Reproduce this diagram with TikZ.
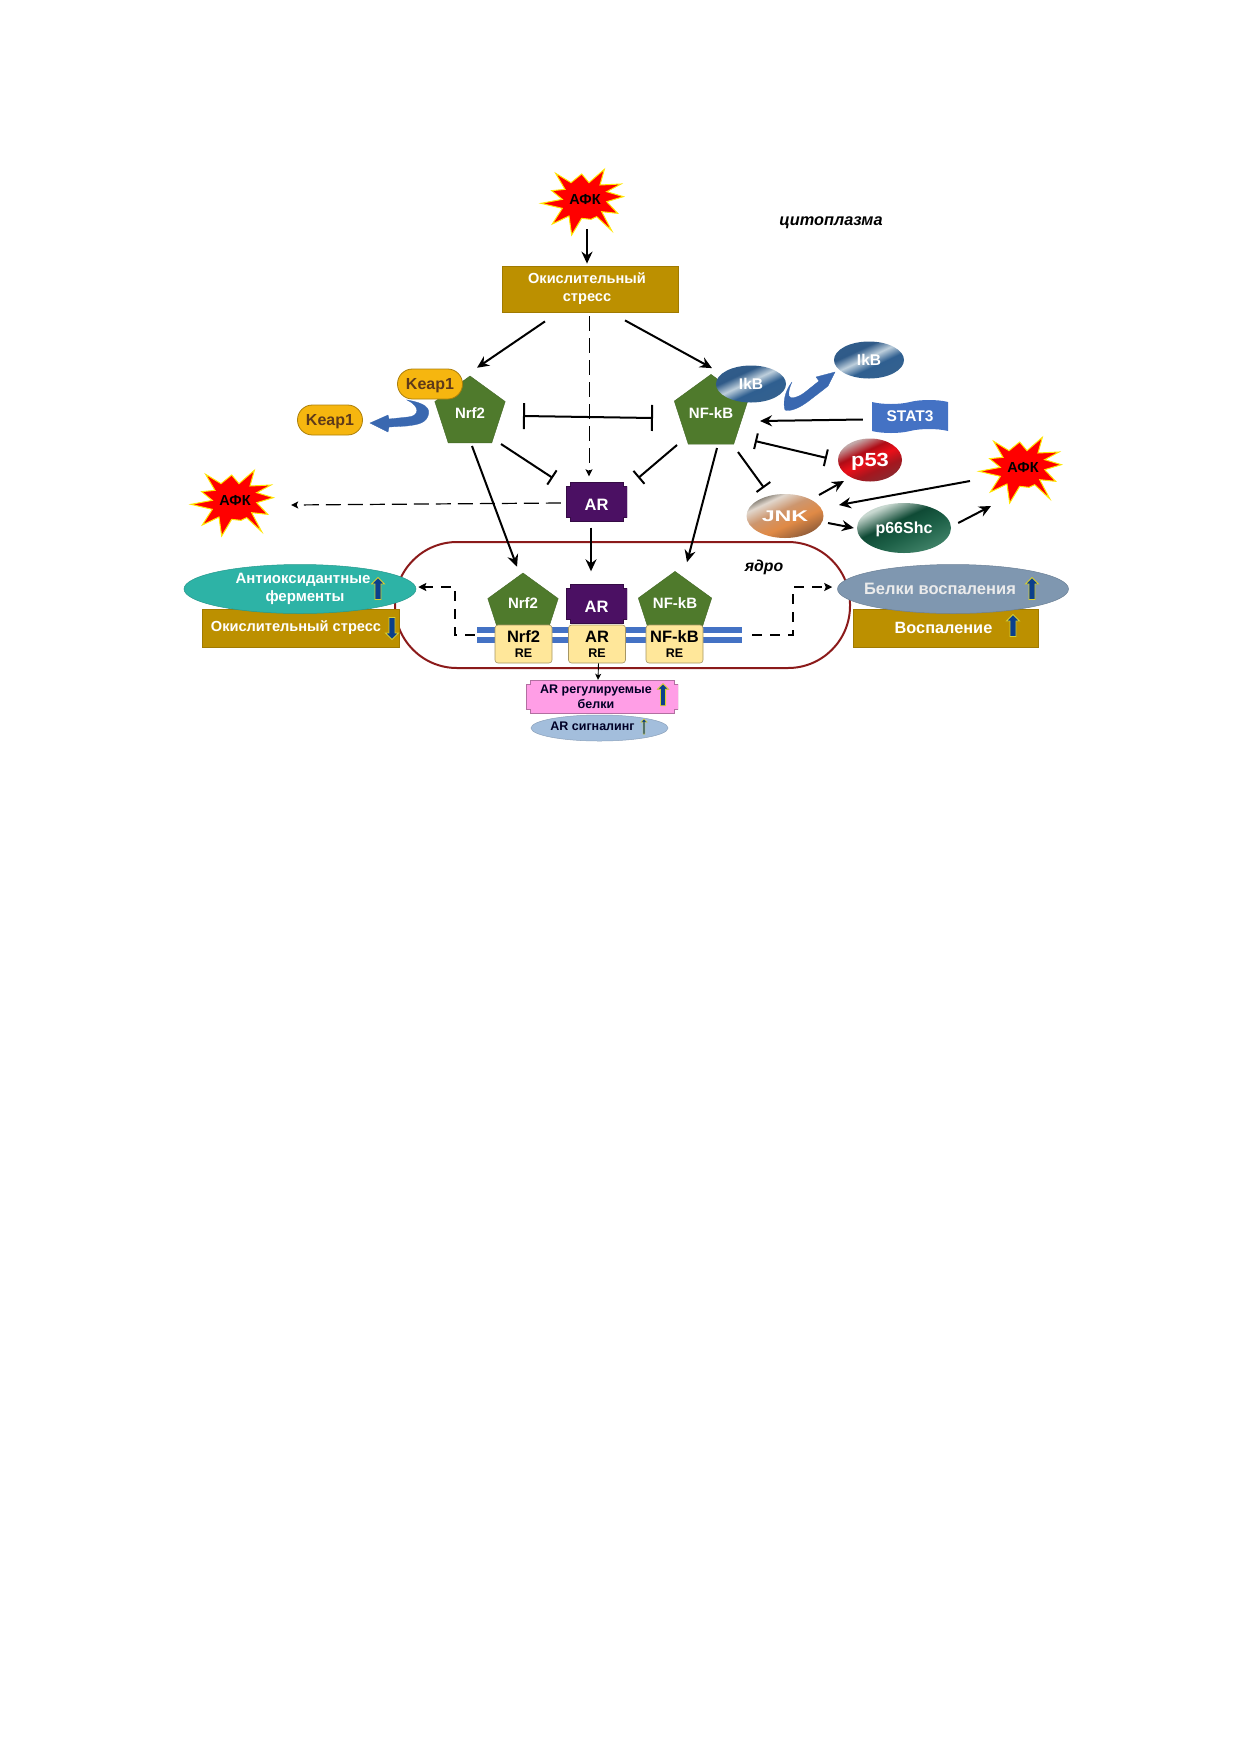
\documentclass[tikz,border=0pt]{standalone}
\usepackage{fontspec}
\usepackage{graphicx}
\setmainfont{Liberation Sans}
\usetikzlibrary{arrows.meta,positioning,shapes.geometric,shapes.arrows,shapes.symbols}

\definecolor{stressbrown}{HTML}{BC9000}
\definecolor{pentagreen}{HTML}{4F7A2C}
\definecolor{arpurple}{HTML}{4B1063}
\definecolor{keapgold}{HTML}{F6B60F}
\definecolor{keapbrown}{HTML}{5E3A1A}
\definecolor{curveblue}{HTML}{3A68B0}
\definecolor{dnablue}{HTML}{4472C4}
\definecolor{reyellow}{HTML}{FFE79A}
\definecolor{nucleusred}{HTML}{8B1A1A}
\definecolor{antioxteal}{HTML}{2DB3A6}
\definecolor{inflamgrey}{HTML}{7F97B0}
\definecolor{signalblue}{HTML}{A3BEDC}
\definecolor{pinkbox}{HTML}{FF9EE6}
\definecolor{arrnavy}{HTML}{0B3F8C}
\definecolor{arredge}{HTML}{D8D030}
\definecolor{ikbA}{HTML}{34618F}
\definecolor{ikbB}{HTML}{2F5F90}
\definecolor{ikbC}{HTML}{BECFDC}
\definecolor{ikbD}{HTML}{2F5A88}
\definecolor{p53A}{HTML}{8A2A30}
\definecolor{p53B}{HTML}{A5161E}
\definecolor{p53C}{HTML}{EB0F19}
\definecolor{p53D}{HTML}{AF0C16}
\definecolor{p53E}{HTML}{C3AAAA}
\definecolor{jnkA}{HTML}{96603A}
\definecolor{jnkB}{HTML}{E08A46}
\definecolor{jnkC}{HTML}{CD966E}
\definecolor{jnkD}{HTML}{E1D7CD}
\definecolor{jnkE}{HTML}{6E695F}
\definecolor{shcA}{HTML}{3E8066}
\definecolor{shcB}{HTML}{1D6047}
\definecolor{shcC}{HTML}{0F4A35}
\definecolor{shcD}{HTML}{C8D8D0}

\pgfdeclareverticalshading{ikbgloss}{100bp}{color(0bp)=(ikbA);color(25bp)=(ikbA);color(42bp)=(ikbB);color(53bp)=(ikbC);color(64bp)=(ikbD);color(100bp)=(ikbA)}
\pgfdeclareverticalshading{p53gloss}{100bp}{color(0bp)=(p53A);color(25bp)=(p53A);color(38bp)=(p53B);color(50bp)=(p53C);color(60bp)=(p53D);color(73bp)=(p53E);color(100bp)=(p53E)}
\pgfdeclareverticalshading{jnkgloss}{100bp}{color(0bp)=(jnkA);color(27bp)=(jnkA);color(42bp)=(jnkB);color(56bp)=(jnkC);color(68bp)=(jnkD);color(76bp)=(jnkE);color(100bp)=(jnkE)}
\pgfdeclareverticalshading{shcgloss}{100bp}{color(0bp)=(shcA);color(27bp)=(shcA);color(44bp)=(shcB);color(57bp)=(shcC);color(72bp)=(shcD);color(100bp)=(shcD)}

\newcommand{\fz}[2]{\fontsize{#1}{#2}\selectfont\bfseries}

\tikzset{
  afk/.style={rectangle,minimum width=100pt,minimum height=84pt,inner sep=0pt,font=\fz{14.5}{17},
    path picture={
      \begin{scope}[x=.3333pt,y=-.3333pt]
        \filldraw[fill=red,draw=yellow!90!orange,line width=1pt,line join=miter]
          (path picture bounding box.center)
          +(-88,-80) -- +(-42,-52) -- +(-10,-78) -- +(12,-52) -- +(58,-92) -- +(45,-45) -- +(108,-48) -- +(65,-25)
          -- +(115,-10) -- +(65,5) -- +(98,40) -- +(50,35) -- +(80,92) -- +(35,50) -- +(18,58) -- +(-10,55)
          -- +(-40,105) -- +(-48,48) -- +(-98,72) -- +(-68,25) -- +(-132,10) -- +(-68,-2) -- +(-100,-28) -- +(-60,-32) -- cycle;
      \end{scope}
    }},
  brownbox/.style={rectangle,fill=stressbrown,draw=stressbrown!85!black,line width=.8pt,text=white,align=center,inner sep=0pt,font=\fz{14.6}{18}},
  penta/.style={regular polygon,regular polygon sides=5,minimum size=74pt,inner sep=0pt,fill=pentagreen,draw=pentagreen!85!black,text=white,font=\fz{15}{18}},
  notched/.style={rectangle,inner sep=0pt,align=center,
    path picture={
      \coordinate (nsw) at (path picture bounding box.south west);
      \coordinate (nse) at (path picture bounding box.south east);
      \coordinate (nne) at (path picture bounding box.north east);
      \coordinate (nnw) at (path picture bounding box.north west);
      \filldraw[fill=#1,draw=#1!70!black,line width=.8pt]
        ([xshift=4pt]nsw) -- ([xshift=-4pt]nse) -- ([xshift=-4pt,yshift=4pt]nse) -- ([yshift=4pt]nse)
        -- ([yshift=-4pt]nne) -- ([xshift=-4pt,yshift=-4pt]nne) -- ([xshift=-4pt]nne) -- ([xshift=4pt]nnw)
        -- ([xshift=4pt,yshift=-4pt]nnw) -- ([yshift=-4pt]nnw) -- ([yshift=4pt]nsw) -- ([xshift=4pt,yshift=4pt]nsw) -- cycle;
    }},
  arbox/.style={notched=arpurple,minimum width=61pt,minimum height=39pt,text height=17pt,text depth=0pt,text=white,font=\fz{16.5}{19}},
  keap/.style={rectangle,rounded corners=14.9pt,minimum width=65pt,minimum height=30pt,inner sep=0pt,text depth=0pt,fill=keapgold,draw=keapgold!70!black,line width=.8pt,text=keapbrown,font=\fz{16}{18}},
  ikb/.style={ellipse,minimum width=70pt,minimum height=37pt,inner sep=0pt,shading=ikbgloss,shading angle=25,text=white,font=\fz{15.5}{18}},
  gloss/.style={ellipse,inner sep=0pt,text depth=0pt,shading=#1,shading angle=25,text=white},
  dnabar/.style={rectangle,minimum width=265pt,minimum height=6.5pt,inner sep=0pt,fill=dnablue},
  rebox/.style={rectangle,rounded corners=3pt,minimum width=57pt,minimum height=38pt,inner sep=0pt,fill=reyellow,draw=reyellow!65!black,line width=.6pt,align=center,font=\fz{16.5}{15}},
  oval/.style={ellipse,inner sep=0pt,align=center,fill=#1,draw=#1!85!black,line width=.5pt},
  uparr/.style={single arrow,shape border rotate=90,minimum height=22pt,minimum width=13pt,single arrow head extend=3.5pt,inner sep=2.6pt,fill=arrnavy,draw=arredge,line width=.8pt},
  downarr/.style={uparr,shape border rotate=270},
  curve/.style={fill=curveblue,draw=curveblue,line width=.3pt},
  arr/.style={->,line width=2pt},
  dasharr/.style={->,line width=#1,dash pattern=on 15pt off 7pt,>={Stealth[length=7pt,width=7pt,inset=1.5pt]}},
  routed/.style={->,line width=2pt,dash pattern=on 10pt off 8pt,>={Stealth[length=8pt,width=8pt,inset=1.5pt]}},
  block/.style={-{Bar[width=#1,line width=2pt]},line width=2pt},
  block/.default=17pt
}

\begin{document}
\begin{tikzpicture}[x=1pt,y=-1pt,on grid,>={Stealth[length=12pt,width=11pt,inset=4pt]}]
  \useasboundingbox (0,0) rectangle (1240,1754);

  \node[draw=nucleusred,line width=2pt,rounded corners=62pt,minimum width=455pt,minimum height=126pt,inner sep=0pt] (nucleus) at (622.5,605) {};

  \node[afk]                                         (afkTop)   at (585,200)           {АФК};
  \node[afk]                                         (afkLeft)  at (235,501)           {АФК};
  \node[afk]                                         (afkRight) at (1023,468)          {АФК};
  \node[brownbox,minimum width=176pt,minimum height=46pt] (stress) at (590,289)        {\hspace{-6pt}Окислительный\\\hspace{-6pt}стресс};
  \node[penta]                                       (nrf2)     at (470,413)           {Nrf2};
  \node[penta]                                       (nfkb)     [right=241pt of nrf2]  {NF-kB};
  \node[keap]                                        (keapOn)   at (430,384)           {Keap1};
  \node[keap]                                        (keapOff)  [below left=36pt and 100pt of keapOn] {Keap1};
  \node[ikb]                                         (ikbOn)    at (751,384)           {IkB};
  \node[ikb]                                         (ikbOff)   [above right=24pt and 118pt of ikbOn] {IkB};
  \node[tape,tape bend top=in and out,tape bend bottom=in and out,tape bend height=4pt,fill=dnablue,minimum width=76pt,minimum height=33pt,inner sep=0pt,text=white,font=\fz{15.5}{18}] (stat3) at (910,416.5) {STAT3};
  \node[gloss=p53gloss,minimum width=64pt,minimum height=43pt,font=\fz{19}{20}]      (p53) at (870,460) {\scalebox{1.15}[1]{p53}};
  \node[gloss=jnkgloss,minimum width=77pt,minimum height=44pt,font=\fz{15.5}{18}]    (jnk) at (785,516) {\scalebox{1.5}[1]{JNK}};
  \node[gloss=shcgloss,minimum width=94pt,minimum height=50pt,font=\fz{16}{18}]      (p66) at (904,528) {p66Shc};
  \node[arbox]                                       (ar)       at (596.5,502)         {AR};

  \node[brownbox,minimum width=197pt,minimum height=38pt] (stressDown) at (300.5,628) {Окислительный стресс\hspace{9pt}};
  \node[oval=antioxteal,minimum width=232pt,minimum height=49pt,text=white,font=\fz{15}{18}] (antiox) at (300,589) {\hspace{6pt}Антиоксидантные\\\hspace{10pt}ферменты};
  \node[brownbox,minimum width=185pt,minimum height=38pt,font=\fz{16.3}{18}] (inflam) at (945.5,628) {Воспаление\hspace{4pt}};
  \node[oval=inflamgrey,minimum width=231pt,minimum height=49pt,text=white!92!black,font=\fz{16.5}{18}] (proteins) at (953,589) {\hspace{-26pt}Белки воспаления};

  \node[dnabar]                                      (dnaTop)   at (609.5,630)         {};
  \node[dnabar]                                      (dnaBot)   [below=10pt of dnaTop] {};
  \node[penta]                                       (nrf2Nuc)  at (523,610)           {\raisebox{14pt}{Nrf2}};
  \node[penta]                                       (nfkbNuc)  [right=152pt of nrf2Nuc] {\raisebox{14pt}{NF-kB}};
  \node[arbox]                                       (arNuc)    [below=102pt of ar]    {AR};
  \node[rebox]                                       (nrf2Re)   at (523.5,644)         {Nrf2\\[0pt]\fontsize{12.5}{13}\selectfont RE};
  \node[rebox]                                       (arRe)     [right=73.5pt of nrf2Re] {AR\\[0pt]\fontsize{12.5}{13}\selectfont RE};
  \node[rebox]                                       (nfkbRe)   [right=151pt of nrf2Re]  {NF-kB\\[0pt]\fontsize{12.5}{13}\selectfont RE};

  \node[notched=pinkbox,minimum width=152pt,minimum height=33pt,text=black!85!blue,font=\fz{12.5}{15}] (arProteins) at (602,696.5) {\hspace{-12pt}AR регулируемые\\\hspace{-12pt}белки};
  \node[oval=signalblue,minimum width=137pt,minimum height=26pt,text=black!85!blue,font=\fz{12.5}{15}] (arSignal) at (599.5,728) {\hspace{-14pt}\raisebox{4pt}{AR сигналинг}};

  \node[uparr]                                       (upAntiox) at (378,590)           {};
  \node[downarr]                                     (downOx)   at (392,627)           {};
  \node[uparr]                                       (upProt)   at (1032,590)          {};
  \node[uparr]                                       (upInflam) at (1013,627)          {};
  \node[uparr,minimum width=11pt,inner sep=2.2pt,single arrow head extend=3pt]  (upPink)   at (663,696) {};
  \node[uparr,minimum height=15pt,minimum width=6pt,single arrow head extend=2pt,inner sep=.7pt,line width=.5pt] (upSignal) at (644,727) {};

  \node[text depth=0pt,font=\fz{16.3}{18}\itshape]   (cytoLabel) at (831,221)          {цитоплазма};
  \node[text depth=0pt,font=\fz{15.8}{18}\itshape]   (nucLabel)  at (764,566)          {ядро};

  \coordinate (bendLeft)  at (455,635);
  \coordinate (bendRight) at (793,635);

  \filldraw[curve] (407,400) .. controls (425,403) and (431,408) .. (428,416) .. controls (425,425) and (412,425) .. (407,426)
    -- (389,427) -- (388,432) -- (370,423) -- (388,415) -- (389,419) -- (408,417) .. controls (420,416) and (420,406) .. (407,400) -- cycle;
  \filldraw[curve] (792,382) .. controls (784,392) and (783,404) .. (785,410) .. controls (790,412) and (800,408) .. (810,400)
    -- (823,390) -- (828,386) -- (835,372) -- (816,377) -- (819,381) -- (804,393) .. controls (797,398) and (790,399) .. (789,396) .. controls (788,392) and (790,386) .. (792,382) -- cycle;

  \path[arr] ([xshift=2pt,yshift=-29pt]afkTop.center)   edge ([xshift=-3pt,yshift=2pt]stress.north)
             ([xshift=-45pt,yshift=-9pt]stress.south)   edge ([xshift=7pt,yshift=8pt]nrf2.north)
             ([xshift=35pt,yshift=-8pt]stress.south)    edge ([xshift=1pt,yshift=6pt]nfkb.north)
             ([xshift=2pt,yshift=-33pt]nrf2.center)     edge ([xshift=-6pt,yshift=6pt]nrf2Nuc.north)
             ([xshift=6pt,yshift=-35pt]nfkb.center)     edge ([xshift=12pt,yshift=9pt]nfkbNuc.north)
             ([xshift=-5.5pt,yshift=-6pt]ar.south)      edge ([xshift=-5.5pt,yshift=13pt]arNuc.north)
             ([xshift=-9pt,yshift=-3pt]stat3.west)      edge ([xshift=49pt,yshift=-8pt]nfkb.center)
             ([xshift=34pt,yshift=21pt]jnk.center)      edge ([xshift=-26pt,yshift=-21pt]p53.center)
             ([xshift=-53pt,yshift=-13pt]afkRight.center) edge ([xshift=54pt,yshift=11pt]jnk.center)
             ([xshift=43pt,yshift=-7pt]jnk.center)      edge ([xshift=-3pt]p66.west)
             ([xshift=7pt,yshift=5pt]p66.east)          edge ([xshift=-32pt,yshift=-38pt]afkRight.center);

  \path[dasharr=1pt] ([xshift=-1pt,yshift=-4pt]stress.south) edge ([xshift=-7.5pt,yshift=6pt]ar.north);
  \path[dasharr=1.2pt] ([xshift=-5pt,yshift=-1pt]ar.west)    edge ([xshift=6pt,yshift=-4pt]afkLeft.east);

  \draw[{Bar[width=26pt,line width=2pt]}-{Bar[width=26pt,line width=2pt]},line width=2pt] ([xshift=53pt,yshift=-3pt]nrf2.center) -- ([xshift=-58pt,yshift=-5pt]nfkb.center);
  \draw[{Bar[width=16pt,line width=2pt]}-{Bar[width=17pt,line width=2pt]},line width=2pt] ([xshift=44pt,yshift=-28pt]nfkb.center) -- ([xshift=-11pt,yshift=2pt]p53.west);
  \path[block] ([xshift=31pt,yshift=-31pt]nrf2.center) edge ([xshift=-13pt,yshift=24pt]ar.west)
               ([xshift=-34pt,yshift=-32pt]nfkb.center) edge ([xshift=11pt,yshift=24pt]ar.east)
               ([xshift=27pt,yshift=-39pt]nfkb.center) edge ([xshift=-21pt,yshift=6pt]jnk.north);

  \draw[routed] ([xshift=-2pt,yshift=-5pt]dnaTop.west) -- (bendLeft) |- ([xshift=2pt,yshift=2pt]antiox.east);
  \draw[routed] ([xshift=10pt,yshift=-5pt]dnaTop.east) -- (bendRight) |- ([xshift=-5pt,yshift=2pt]proteins.west);

  \draw[->,line width=.9pt,>={Stealth[length=6pt,width=6pt,inset=1.5pt]}] ([xshift=1.5pt]arRe.south) -- ([xshift=-4pt]arProteins.north);
\end{tikzpicture}
\end{document}
